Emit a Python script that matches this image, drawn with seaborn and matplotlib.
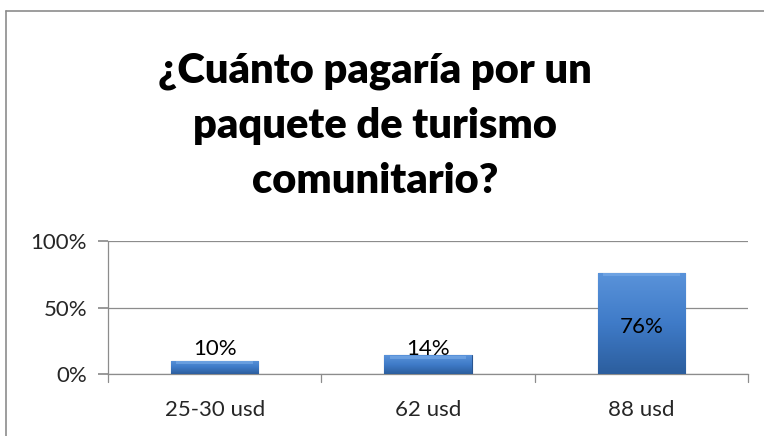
import numpy as np
import pandas as pd
import matplotlib
matplotlib.use("Agg")
import matplotlib.pyplot as plt
import seaborn as sns
from matplotlib.colors import LinearSegmentedColormap

categories = ["25-30 usd", "62 usd", "88 usd"]
shares = [0.10, 0.14, 0.76]
bar_labels = ["10%", "14%", "76%"]
y_ticks = [0.0, 0.5, 1.0]
y_tick_labels = ["0%", "50%", "100%"]
title = "¿Cuánto pagaría por un\npaquete de turismo\ncomunitario?"

df = pd.DataFrame({"Precio": categories, "Porcentaje": shares})

sns.set_theme(style="white")
plt.rcParams["font.family"] = ["Lato", "DejaVu Sans"]

fig = plt.figure(figsize=(7.64, 4.36), dpi=100)
ax = fig.add_axes([108 / 764, 1 - 374 / 436, (748 - 108) / 764, (374 - 241) / 436])

sns.barplot(data=df, x="Precio", y="Porcentaje", ax=ax, width=0.41,
            color="#3E76C0", edgecolor="#2A5590", linewidth=0.8, zorder=3)

# gradient fill clipped to each bar, roughly like the office bevel look
cmap = LinearSegmentedColormap.from_list("bev", ["#2C5E9E", "#3F7BC8", "#5A93DA"])
grad = np.linspace(0, 1, 100).reshape(-1, 1)
for p in ax.patches:
    x0, y0 = p.get_x(), p.get_y()
    w, h = p.get_width(), p.get_height()
    im = ax.imshow(grad, cmap=cmap, aspect="auto", origin="lower",
                   extent=[x0, x0 + w, y0, y0 + h], zorder=3.5)
    im.set_clip_path(p)
    # light top bevel
    ax.fill_between([x0 + w * 0.06, x0 + w * 0.94], y0 + h - 0.025, y0 + h - 0.004,
                    color="#7FB0EA", alpha=0.55, zorder=3.6, linewidth=0)
ax.set_xlim(-0.5, 2.5)
ax.set_ylim(0, 1.0)

for i, (v, lab) in enumerate(zip(shares, bar_labels)):
    ax.text(i, max(v / 2 - 0.03, 0.185), lab, ha="center", va="center",
            fontsize=16, color="black", zorder=5)

ax.set_yticks(y_ticks)
ax.set_yticklabels(y_tick_labels, fontsize=16)
ax.set_xticks(range(len(categories)))
ax.set_xticklabels(categories, fontsize=16)
ax.set_xlabel("")
ax.set_ylabel("")
ax.yaxis.grid(True, color="#8C8C8C", linewidth=0.9, zorder=0)
ax.set_axisbelow(True)
for s in ["top", "right"]:
    ax.spines[s].set_visible(False)
for s in ["left", "bottom"]:
    ax.spines[s].set_color("#8C8C8C")
    ax.spines[s].set_linewidth(0.9)

# category separators below axis
for xb in [-0.5, 0.5, 1.5, 2.5]:
    ax.plot([xb, xb], [0, -0.06], color="#8C8C8C", linewidth=0.9,
            clip_on=False, zorder=2)
ax.tick_params(axis="y", length=7, color="#8C8C8C", left=True, pad=8)
ax.tick_params(axis="x", length=0, pad=19)

fig.text(375 / 764, 1 - 126 / 436, title, ha="center", va="center",
         fontsize=30, fontweight="heavy", linespacing=1.55, color="black")

# chart frame (top and left edges are visible in the crop)
fig.add_artist(plt.Line2D([6 / 764, 1], [1 - 11 / 436, 1 - 11 / 436],
                          transform=fig.transFigure, color="#8C8C8C", linewidth=1.2))
fig.add_artist(plt.Line2D([6 / 764, 6 / 764], [0, 1 - 11 / 436],
                          transform=fig.transFigure, color="#8C8C8C", linewidth=1.2))

fig.savefig("out.png", dpi=100)
